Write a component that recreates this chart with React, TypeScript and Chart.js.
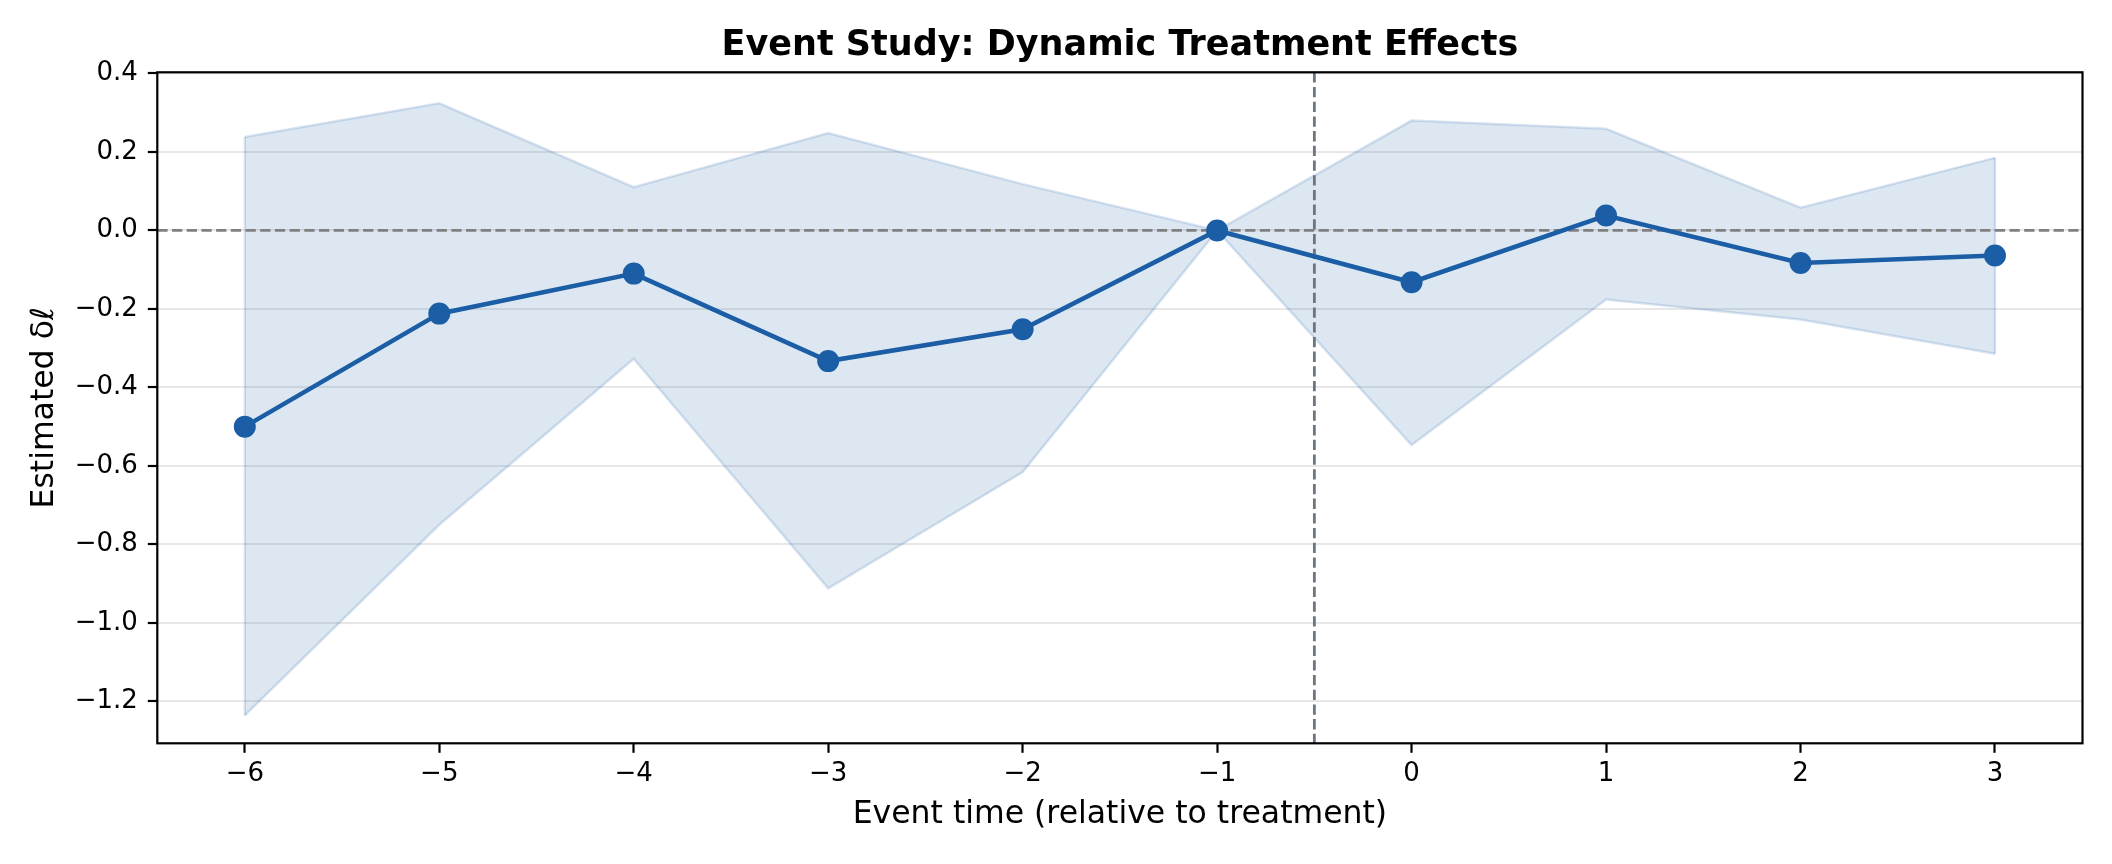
import { useEffect, useRef } from 'react'
import { Chart, registerables } from 'chart.js'

Chart.register(...registerables)

const EVENT_TIMES = [-6, -5, -4, -3, -2, -1, 0, 1, 2, 3]
const ESTIMATES = [-0.5, -0.212, -0.11, -0.333, -0.252, 0, -0.132, 0.038, -0.083, -0.064]
const CI_UPPER = [0.238, 0.324, 0.11, 0.248, 0.118, 0, 0.28, 0.259, 0.058, 0.185]
const CI_LOWER = [-1.236, -0.75, -0.327, -0.912, -0.616, 0, -0.547, -0.176, -0.227, -0.314]

const X_TICKS = [-6, -5, -4, -3, -2, -1, 0, 1, 2, 3]
const Y_TICKS = [-1.2, -1.0, -0.8, -0.6, -0.4, -0.2, 0.0, 0.2, 0.4]
const ZERO_LINE = 0
const TREATMENT_LINE = -0.5

const LINE_COLOR = '#1b5ea6'
const BAND_FILL = 'rgba(27, 94, 166, 0.15)'
const BAND_EDGE = 'rgba(27, 94, 166, 0.17)'
const FONT = "'DejaVu Sans', sans-serif"

const fmt = (v: number, digits: number) => v.toFixed(digits).replace('-', '\u2212')

const pts = (ys: number[]) => EVENT_TIMES.map((x, i) => ({ x, y: ys[i] }))

// dashed reference lines, drawn just before the estimate line
const refLines = {
  id: 'refLines',
  beforeDatasetDraw(chart: any, args: any) {
    if (args.index !== 0) return
    const { ctx, chartArea } = chart
    const xs = chart.scales.x
    const ys = chart.scales.y
    ctx.save()
    ctx.lineWidth = 2.8
    ctx.setLineDash([10.3, 4.4])
    ctx.strokeStyle = '#808080'
    const y0 = ys.getPixelForValue(ZERO_LINE)
    ctx.beginPath()
    ctx.moveTo(chartArea.left, y0)
    ctx.lineTo(chartArea.right, y0)
    ctx.stroke()
    ctx.strokeStyle = '#6c7580'
    const x0 = xs.getPixelForValue(TREATMENT_LINE)
    ctx.beginPath()
    ctx.moveTo(x0, chartArea.top)
    ctx.lineTo(x0, chartArea.bottom)
    ctx.stroke()
    ctx.restore()
  },
}

// matplotlib-style box around the axes
const frame = {
  id: 'frame',
  afterDatasetsDraw(chart: any) {
    const { ctx, chartArea } = chart
    ctx.save()
    ctx.strokeStyle = '#000'
    ctx.lineWidth = 2.2
    ctx.strokeRect(chartArea.left, chartArea.top, chartArea.right - chartArea.left, chartArea.bottom - chartArea.top)
    ctx.restore()
  },
}

const App = () => {
  const canvasRef = useRef<HTMLCanvasElement>(null)
  const chartRef = useRef<Chart | null>(null)

  useEffect(() => {
    if (!canvasRef.current) return
    if (chartRef.current) chartRef.current.destroy()

    Chart.defaults.font.family = FONT
    Chart.defaults.color = '#000'

    chartRef.current = new Chart(canvasRef.current, {
      type: 'line',
      data: {
        datasets: [
          {
            label: 'Estimate',
            data: pts(ESTIMATES),
            borderColor: LINE_COLOR,
            backgroundColor: LINE_COLOR,
            borderWidth: 4.6,
            pointRadius: 10,
            pointBorderWidth: 2,
            pointBackgroundColor: LINE_COLOR,
            pointBorderColor: LINE_COLOR,
            fill: false,
          },
          {
            label: 'CI upper',
            data: pts(CI_UPPER),
            borderColor: BAND_EDGE,
            borderWidth: 2.5,
            backgroundColor: BAND_FILL,
            pointRadius: 0,
            fill: '+1',
          },
          {
            label: 'CI lower',
            data: pts(CI_LOWER),
            borderColor: BAND_EDGE,
            borderWidth: 2.5,
            pointRadius: 0,
            fill: false,
          },
          {
            label: 'CI ends',
            data: [
              { x: EVENT_TIMES[0], y: CI_LOWER[0] },
              { x: EVENT_TIMES[0], y: CI_UPPER[0] },
              { x: -1.5, y: null },
              { x: EVENT_TIMES[EVENT_TIMES.length - 1], y: CI_LOWER[CI_LOWER.length - 1] },
              { x: EVENT_TIMES[EVENT_TIMES.length - 1], y: CI_UPPER[CI_UPPER.length - 1] },
            ],
            borderColor: BAND_EDGE,
            borderWidth: 2.5,
            pointRadius: 0,
            fill: false,
            spanGaps: false,
          },
        ],
      },
      options: {
        animation: false,
        responsive: false,
        devicePixelRatio: 1,
        layout: { padding: { left: 0, right: 29.5, top: 0, bottom: 0 } },
        plugins: {
          legend: { display: false },
          tooltip: { enabled: false },
          title: {
            display: true,
            text: 'Event Study: Dynamic Treatment Effects',
            fullSize: false,
            color: '#000',
            font: { family: FONT, size: 35, weight: 'bold', lineHeight: 1 },
            padding: { top: 28.2, bottom: 9.1 },
          },
        },
        scales: {
          x: {
            type: 'linear',
            min: -6.45,
            max: 3.45,
            afterFit: (scale: any) => {
              scale.height = 120.7
            },
            afterBuildTicks: (scale: any) => {
              scale.ticks = X_TICKS.map(value => ({ value }))
            },
            ticks: {
              autoSkip: false,
              maxRotation: 0,
              padding: 8.2,
              color: '#000',
              font: { family: FONT, size: 26, lineHeight: 1 },
              callback: (v: any) => fmt(Number(v), 0),
            },
            grid: {
              drawOnChartArea: false,
              drawTicks: true,
              tickLength: 9.5,
              tickWidth: 2.2,
              tickColor: '#000',
            },
            border: { display: false },
            title: {
              display: true,
              text: 'Event time (relative to treatment)',
              color: '#000',
              font: { family: FONT, size: 31.5, lineHeight: 1 },
              padding: { top: 0, bottom: 33 },
            },
          },
          y: {
            type: 'linear',
            min: -1.307,
            max: 0.403,
            afterFit: (scale: any) => {
              scale.width = 157.3
            },
            afterBuildTicks: (scale: any) => {
              scale.ticks = Y_TICKS.map(value => ({ value }))
            },
            ticks: {
              autoSkip: false,
              padding: 10,
              color: '#000',
              font: { family: FONT, size: 26, lineHeight: 1 },
              callback: (v: any) => fmt(Number(v), 1),
            },
            grid: {
              color: 'rgba(176, 176, 176, 0.3)',
              lineWidth: 2,
              drawTicks: true,
              tickLength: 9.5,
              tickWidth: 2.2,
              tickColor: '#000',
            },
            border: { display: false },
            title: {
              display: true,
              text: 'Estimated δℓ',
              color: '#000',
              font: { family: FONT, size: 31.5, lineHeight: 1 },
              padding: { top: 29, bottom: 0 },
            },
          },
        },
      },
      plugins: [refLines, frame],
    } as any)

    return () => {
      if (chartRef.current) {
        chartRef.current.destroy()
        chartRef.current = null
      }
    }
  }, [])

  return (
    <div style={{ position: 'absolute', left: 0, top: 0, width: 2112, height: 864, background: '#fff' }}>
      <canvas ref={canvasRef} width={2112} height={864} style={{ width: 2112, height: 864 }} />
    </div>
  )
}

export default App
